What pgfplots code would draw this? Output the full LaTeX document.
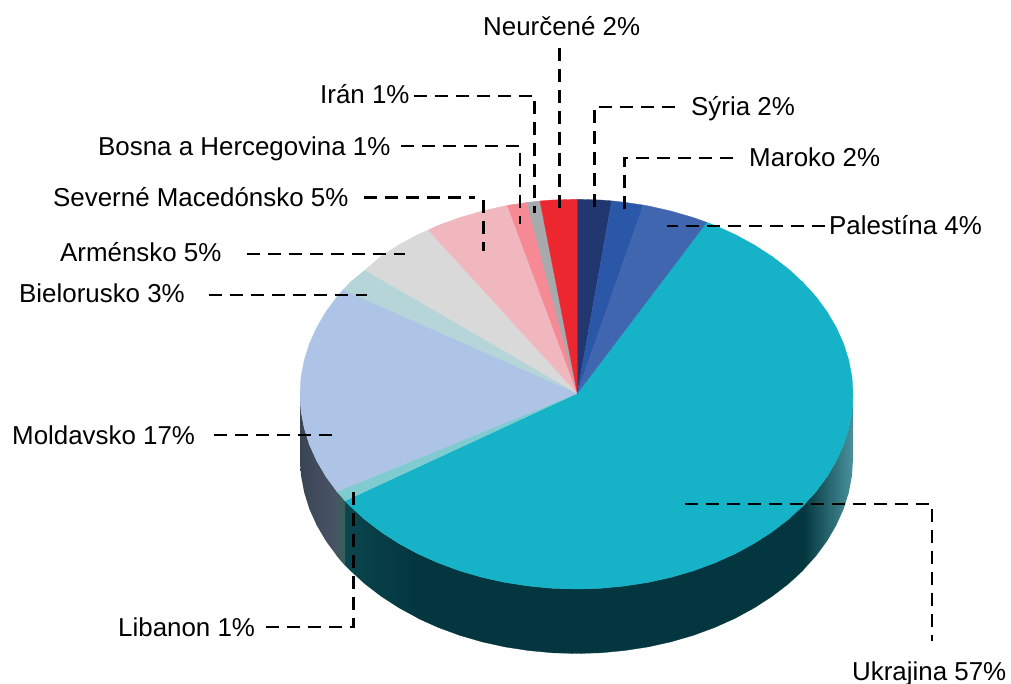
\documentclass[border=0pt]{standalone}
\usepackage{pgfplots}
\pgfplotsset{compat=1.18}
\usepackage{fontspec}
\setmainfont{Liberation Sans}
\definecolor{cRed}{HTML}{ED2730}
\definecolor{cIran}{HTML}{A7A9AC}
\definecolor{cBos}{HTML}{F58A94}
\definecolor{cMac}{HTML}{F0B8BE}
\definecolor{cArm}{HTML}{D9D9D9}
\definecolor{cBie}{HTML}{B5D5D8}
\definecolor{cMol}{HTML}{ADC4E6}
\definecolor{cLib}{HTML}{7FCBD0}
\definecolor{cUkr}{HTML}{15B2C8}
\definecolor{cSyr}{HTML}{22366F}
\definecolor{cMar}{HTML}{2B57A9}
\definecolor{cPal}{HTML}{4066B0}
\definecolor{sUkr}{HTML}{03363E}
\definecolor{sUkrL}{HTML}{0B454D}
\definecolor{sUkrM}{HTML}{1E5C68}
\definecolor{sUkrR}{HTML}{4A929E}
\definecolor{sLib}{HTML}{3D5A5C}
\definecolor{sMolL}{HTML}{3A4553}
\definecolor{sMolR}{HTML}{4A5468}
\pgfplotsset{wedge/.style={fill=#1,draw=#1,line width=0.3pt,no markers},
 lead/.style={black,line width=2.6pt,dash pattern=on 13pt off 8pt,no markers,sharp plot}}
\newcommand{\lab}[3]{\node[anchor=base west,inner sep=0pt,font=\fontsize{25.9}{26}\selectfont] at (axis cs:#1,#2) {#3};}
\begin{document}
\begin{tikzpicture}[x=1pt,y=1pt]
\useasboundingbox (0,0) rectangle (1011pt,684pt);
\begin{axis}[at={(0,0)},anchor=south west,scale only axis,width=1011pt,height=684pt,
 xmin=0,xmax=1011,ymin=0,ymax=684,y dir=reverse,hide axis,clip=false]
% side walls
\addplot[wedge=sUkr] coordinates {(803.0,505.9)(788.3,519.4)(772.0,531.9)(754.2,543.4)(735.1,553.8)(714.8,562.9)(693.4,570.8)(671.1,577.3)(648.1,582.4)(624.5,586.0)(600.6,588.3)(576.5,589.0)(552.4,588.3)(528.5,586.0)(504.9,582.4)(481.9,577.3)(459.6,570.8)(438.2,562.9)(417.9,553.8)(417.9,618.3)(438.2,627.4)(459.6,635.3)(481.9,641.8)(504.9,646.9)(528.5,650.5)(552.4,652.8)(576.5,653.5)(600.6,652.8)(624.5,650.5)(648.1,646.9)(671.1,641.8)(693.4,635.3)(714.8,627.4)(735.1,618.3)(754.2,607.9)(772.0,596.4)(788.3,583.9)(803.0,570.4)} -- cycle;
\addplot[no markers,draw=none,left color=sUkr,middle color=sUkrM,right color=sUkrR] coordinates {(853.0,394.15)(852.0,411.1)(848.8,428.0)(843.6,444.6)(836.3,460.8)(827.1,476.5)(816.0,491.6)(803.0,505.9)(803.0,570.4)(816.0,556.1)(827.1,541.0)(836.3,525.3)(843.6,509.1)(848.8,492.5)(852.0,475.6)(853.0,458.65)} -- cycle;
\addplot[no markers,draw=none,left color=sUkrL,right color=sUkr] coordinates {(345.0,500.8)(350.0,505.9)(364.7,519.4)(381.0,531.9)(398.8,543.4)(417.9,553.8)(417.9,618.3)(398.8,607.9)(381.0,596.4)(364.7,583.9)(350.0,570.4)(345.0,565.3)} -- cycle;
\addplot[wedge=sLib] coordinates {(345.0,500.8)(337.0,491.6)(337.0,556.1)(345.0,565.3)} -- cycle;
\addplot[no markers,draw=none,left color=sMolL,right color=sMolR] coordinates {(337.0,491.6)(325.9,476.5)(316.7,460.8)(309.4,444.6)(304.2,428.0)(301.0,411.1)(300.0,394.15)(300.0,458.65)(301.0,475.6)(304.2,492.5)(309.4,509.1)(316.7,525.3)(325.9,541.0)(337.0,556.1)} -- cycle;
% top wedges
\addplot[wedge=cUkr] coordinates {(577.3,393.3)(706.7,222.3)(714.8,225.4)(735.1,234.5)(754.2,244.9)(772.0,256.4)(788.3,268.9)(803.0,282.4)(816.0,296.7)(827.1,311.8)(836.3,327.5)(843.6,343.7)(848.8,360.3)(852.0,377.2)(853.0,394.15)(852.0,411.1)(848.8,428.0)(843.6,444.6)(836.3,460.8)(827.1,476.5)(816.0,491.6)(803.0,505.9)(788.3,519.4)(772.0,531.9)(754.2,543.4)(735.1,553.8)(714.8,562.9)(693.4,570.8)(671.1,577.3)(648.1,582.4)(624.5,586.0)(600.6,588.3)(576.5,589.0)(552.4,588.3)(528.5,586.0)(504.9,582.4)(481.9,577.3)(459.6,570.8)(438.2,562.9)(417.9,553.8)(398.8,543.4)(381.0,531.9)(364.7,519.4)(350.0,505.9)(345.0,500.8)} -- cycle;
\addplot[wedge=cLib] coordinates {(577.3,393.3)(345.0,500.8)(337.0,491.6)} -- cycle;
\addplot[wedge=cMol] coordinates {(577.3,393.3)(337.0,491.6)(325.9,476.5)(316.7,460.8)(309.4,444.6)(304.2,428.0)(301.0,411.1)(300.0,394.15)(301.0,377.2)(304.2,360.3)(309.4,343.7)(316.7,327.5)(325.9,311.8)(337.0,296.7)(343.3,289.7)} -- cycle;
\addplot[wedge=cBie] coordinates {(577.3,393.3)(343.3,289.7)(350.0,282.4)(365.0,270.0)} -- cycle;
\addplot[wedge=cArm] coordinates {(577.3,393.3)(365.0,270.0)(381.0,256.4)(398.8,244.9)(417.9,234.5)(428.3,230.0)} -- cycle;
\addplot[wedge=cMac] coordinates {(577.3,393.3)(428.3,230.0)(438.2,225.4)(459.6,217.6)(481.9,211.1)(504.9,205.9)(507.3,205.4)} -- cycle;
\addplot[wedge=cBos] coordinates {(577.3,393.3)(507.3,205.4)(526.7,202.5)} -- cycle;
\addplot[wedge=cIran] coordinates {(577.3,393.3)(526.7,202.5)(528.5,202.3)(540.0,201.0)} -- cycle;
\addplot[wedge=cRed] coordinates {(577.3,393.3)(540.0,201.0)(552.4,200.0)(576.5,199.3)(577.3,199.3)} -- cycle;
\addplot[wedge=cSyr] coordinates {(577.3,393.3)(577.3,199.3)(600.6,200.0)(611.7,200.9)} -- cycle;
\addplot[wedge=cMar] coordinates {(577.3,393.3)(611.7,200.9)(624.5,202.3)(643.3,205.1)} -- cycle;
\addplot[wedge=cPal] coordinates {(577.3,393.3)(643.3,205.1)(648.1,205.9)(671.1,211.1)(693.4,217.6)(706.7,222.3)} -- cycle;
% leader lines
\addplot[lead] coordinates {(559.3,48)(559.3,212)};
\addplot[lead] coordinates {(414,96)(534.5,96)(534.5,213)};
\addplot[lead] coordinates {(401,146)(520,146)(520,224)};
\addplot[lead] coordinates {(364,197.5)(475,197.5)};
\addplot[lead] coordinates {(483.5,200)(483.5,251)};
\addplot[lead] coordinates {(246.7,254)(405,254)};
\addplot[lead] coordinates {(208.7,295)(367,295)};
\addplot[lead] coordinates {(214,435)(336.7,435)};
\addplot[lead] coordinates {(266,627)(353.5,627)(353.5,491.5)};
\addplot[lead] coordinates {(675,107)(594.5,107)(594.5,208.5)};
\addplot[lead] coordinates {(733,158)(624.5,158)(624.5,213)};
\addplot[lead] coordinates {(825,226)(666.7,226)};
\addplot[lead] coordinates {(684.7,504)(932,504)(932,641)};
% labels
\lab{483}{36}{Neurčené 2\%}
\lab{691}{116}{Sýria 2\%}
\lab{749}{167}{Maroko 2\%}
\lab{829}{235}{Palestína 4\%}
\lab{320}{104}{Irán 1\%}
\lab{98}{156}{Bosna a Hercegovina 1\%}
\lab{53}{206.7}{Severné Macedónsko 5\%}
\lab{60}{262}{Arménsko 5\%}
\lab{19}{302}{Bielorusko 3\%}
\lab{12}{444}{Moldavsko 17\%}
\lab{118}{636}{Libanon 1\%}
\lab{852}{680}{Ukrajina 57\%}
\end{axis}
\end{tikzpicture}
\end{document}
